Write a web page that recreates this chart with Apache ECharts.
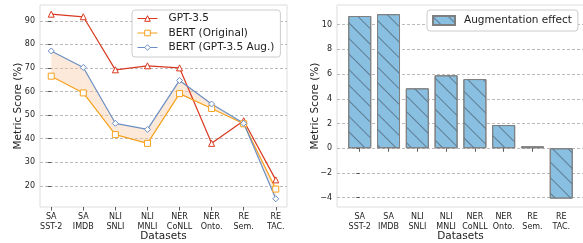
<!DOCTYPE html>
<html>
<head>
<meta charset="UTF-8">
<title>Augmentation</title>
<script src="https://cdn.jsdelivr.net/npm/echarts@6/dist/echarts.min.js"></script>
<style>
  html, body { margin: 0; padding: 0; background: #fff; }
  #main { width: 583px; height: 243px; }
</style>
</head>
<body>
<div id="main"></div>
<script>
// datasets (x axis)
var categories = ['SA\nSST-2', 'SA\nIMDB', 'NLI\nSNLI', 'NLI\nMNLI', 'NER\nCoNLL', 'NER\nOnto.', 'RE\nSem.', 'RE\nTAC.'];

// left panel: metric scores (%)
var gptScores = [92.8, 91.7, 69.2, 70.9, 70.0, 38.0, 47.6, 22.5];
var bertOrig = [66.5, 59.4, 41.7, 38.0, 59.1, 52.8, 46.3, 18.6];
var bertAug = [77.2, 70.2, 46.5, 43.9, 64.7, 54.7, 46.5, 14.5];
var leftTicks = [20, 30, 40, 50, 60, 70, 80, 90];

// right panel: augmentation effect
var augEffect = [10.7, 10.85, 4.85, 5.9, 5.6, 1.88, 0.16, -4.07];
var rightTicks = [-4, -2, 0, 2, 4, 6, 8, 10];

var FONT = 'DejaVu Sans';
var idx = categories.map(function (c, i) { return i; });

function pairs(arr) {
  return arr.map(function (v, i) { return [i, v]; });
}

var tickStyle = { show: true, inside: false, length: 3.5, lineStyle: { color: '#333', width: 0.8 } };
var gridLine = { show: true, lineStyle: { color: '#aaa', width: 0.8, type: [3, 2] } };

function xAxisFor(gridIndex, min, max) {
  return {
    type: 'value', gridIndex: gridIndex, min: min, max: max,
    axisLine: { show: false },
    axisTick: Object.assign({ customValues: idx }, tickStyle),
    axisLabel: {
      customValues: idx, fontFamily: FONT, fontSize: 8, color: '#222',
      lineHeight: 10, margin: 5,
      formatter: function (v) { return categories[Math.round(v)]; }
    },
    splitLine: { show: false },
    name: 'Datasets', nameLocation: 'middle', nameGap: 24, nameMoveOverlap: false,
    nameTextStyle: { fontFamily: FONT, fontSize: 10.5, color: '#222' }
  };
}

function yAxisFor(gridIndex, min, max, ticks) {
  return {
    type: 'value', gridIndex: gridIndex, min: min, max: max,
    axisLine: { show: false },
    axisTick: Object.assign({ customValues: ticks }, tickStyle),
    axisLabel: {
      customValues: ticks, fontFamily: FONT, fontSize: 8, color: '#222', margin: 5,
      formatter: function (v) { return String(Math.round(v)).replace('-', '\u2212'); }
    },
    splitLine: gridLine,
    name: 'Metric Score (%)', nameLocation: 'middle', nameGap: 16, nameMoveOverlap: false,
    nameTextStyle: { fontFamily: FONT, fontSize: 10.5, color: '#222' }
  };
}

// fill between the two BERT lines, one quad per segment
var bandData = [];
for (var i = 0; i < categories.length - 1; i++) {
  bandData.push([i, bertOrig[i], bertAug[i], bertOrig[i + 1], bertAug[i + 1]]);
}

function lineSeries(name, data, color, symbol, size) {
  return {
    type: 'line', name: name, xAxisIndex: 0, yAxisIndex: 0,
    data: pairs(data), symbol: symbol, symbolSize: size, z: 3,
    lineStyle: { color: color, width: 1.2 },
    itemStyle: { color: '#fff', borderColor: color, borderWidth: 1 },
    emphasis: { disabled: true }
  };
}

var chart = echarts.init(document.getElementById('main'), null, { renderer: 'canvas' });

chart.setOption({
  animation: false,
  backgroundColor: '#fff',
  textStyle: { fontFamily: FONT },
  grid: [
    { left: 40, top: 5, width: 247, height: 202, show: true, borderColor: '#ddd', borderWidth: 1, outerBoundsMode: 'none' },
    { left: 337, top: 5, width: 247, height: 202, show: true, borderColor: '#ddd', borderWidth: 1, outerBoundsMode: 'none' }
  ],
  xAxis: [xAxisFor(0, -0.35, 7.35), xAxisFor(1, -0.79, 7.79)],
  yAxis: [yAxisFor(0, 11, 96.7, leftTicks), yAxisFor(1, -4.75, 11.59, rightTicks)],
  legend: [
    {
      orient: 'vertical', left: 132, top: 10, width: 151,
      padding: [3, 6, 4, 5], itemGap: 3.5, itemWidth: 20, itemHeight: 7,
      backgroundColor: '#fff', borderColor: '#ccc', borderWidth: 1, borderRadius: 3,
      itemStyle: { borderWidth: 1 },
      lineStyle: { width: 1 },
      textStyle: { fontFamily: FONT, fontSize: 10.5, color: '#222', padding: [0, 0, 0, 6] },
      data: ['GPT-3.5', 'BERT (Original)', 'BERT (GPT-3.5 Aug.)']
    },
    {
      left: 427, top: 10, padding: [5, 6, 5, 5],
      itemWidth: 22, itemHeight: 9,
      backgroundColor: '#fff', borderColor: '#ccc', borderWidth: 1, borderRadius: 3,
      textStyle: { fontFamily: FONT, fontSize: 10.5, color: '#222', padding: [0, 0, 0, 4] },
      data: [{ name: 'Augmentation effect', icon: 'rect' }]
    }
  ],
  series: [
    {
      type: 'custom', name: 'band', xAxisIndex: 0, yAxisIndex: 0, z: 1,
      silent: true, data: bandData,
      renderItem: function (params, api) {
        var x0 = api.value(0);
        var pts = [
          api.coord([x0, api.value(1)]),
          api.coord([x0 + 1, api.value(3)]),
          api.coord([x0 + 1, api.value(4)]),
          api.coord([x0, api.value(2)])
        ];
        return { type: 'polygon', shape: { points: pts }, style: { fill: 'rgba(250,200,160,0.4)', stroke: null } };
      }
    },
    lineSeries('GPT-3.5', gptScores, '#d9391f', 'triangle', 6),
    lineSeries('BERT (Original)', bertOrig, '#f5a11c', 'rect', 6),
    lineSeries('BERT (GPT-3.5 Aug.)', bertAug, '#6b8fc4', 'diamond', 6),
    {
      type: 'bar', name: 'Augmentation effect', xAxisIndex: 1, yAxisIndex: 1,
      data: pairs(augEffect), barWidth: 23,
      itemStyle: {
        color: '#89bfe0', borderColor: '#7f7f7f', borderWidth: 1,
        decal: {
          symbol: 'rect', symbolSize: 1, color: 'rgba(80,100,120,0.75)',
          dashArrayX: [1, 0], dashArrayY: [1, 10], rotation: Math.PI / 4
        }
      },
      emphasis: { disabled: true }
    }
  ]
});
</script>
</body>
</html>
